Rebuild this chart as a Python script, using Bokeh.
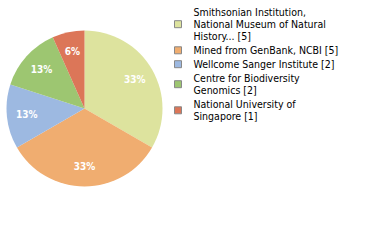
import numpy as np
from bokeh.plotting import figure
from bokeh.models import Range1d, ColumnDataSource
from bokeh.core.properties import value
from bokeh.embed import file_html
from bokeh.resources import INLINE

labels = ["Smithsonian Institution,\nNational Museum of Natural\nHistory... [5]",
          "Mined from GenBank, NCBI [5]",
          "Wellcome Sanger Institute [2]",
          "Centre for Biodiversity\nGenomics [2]",
          "National University of\nSingapore [1]"]
counts = [5, 5, 2, 2, 1]
pct_labels = ["33%", "33%", "13%", "13%", "6%"]
colors = ["#dde39e", "#f0ad70", "#9db9e1", "#9dc671", "#dc7658"]

W, H = 380, 240
p = figure(width=W, height=H, x_range=Range1d(0, W), y_range=Range1d(0, H),
           output_backend="svg", toolbar_location=None, min_border=0)
p.axis.visible = False
p.grid.visible = False
p.outline_line_color = None
p.background_fill_color = "white"

cx, cy, R = 84, H - 108, 78
vals = np.array(counts, dtype=float)
frac = vals / vals.sum()
cum = np.concatenate([[0], np.cumsum(frac)])
start = np.pi / 2 - 2 * np.pi * cum[1:]
end = np.pi / 2 - 2 * np.pi * cum[:-1]
src = ColumnDataSource(dict(x=[cx] * len(counts), y=[cy] * len(counts),
                            start=start, end=end, color=colors))
p.wedge(x="x", y="y", radius=R, start_angle="start", end_angle="end",
        fill_color="color", line_color=None, source=src)

mid = (start + end) / 2
lr = 58
p.text(x=cx + lr * np.cos(mid), y=cy + lr * np.sin(mid), text=pct_labels,
       text_color="white", text_font=value("DejaVu Sans Condensed"), text_font_style="bold",
       text_font_size="10px", text_align="center", text_baseline="middle")

# legend
line_h = 12.2
gap = 1.7
y = 11.5
sq_y, tx, ty = [], [], []
for lab in labels:
    lines = lab.split("\n")
    n = len(lines)
    for i, ln in enumerate(lines):
        tx.append(ln)
        ty.append(H - (y + i * line_h))
    sq_y.append(H - (y + (n - 1) * line_h / 2))
    y += n * line_h + gap
p.rect(x=[177.5] * len(labels), y=sq_y, width=7, height=7, fill_color=colors,
       line_color="#888888", line_width=1)
p.text(x=[193] * len(tx), y=ty, text=tx, text_color="black",
       text_font=value("DejaVu Sans Condensed"), text_font_size="10.5px",
       text_baseline="middle", text_align="left")

open("out.html", "w").write(file_html(p, INLINE))
